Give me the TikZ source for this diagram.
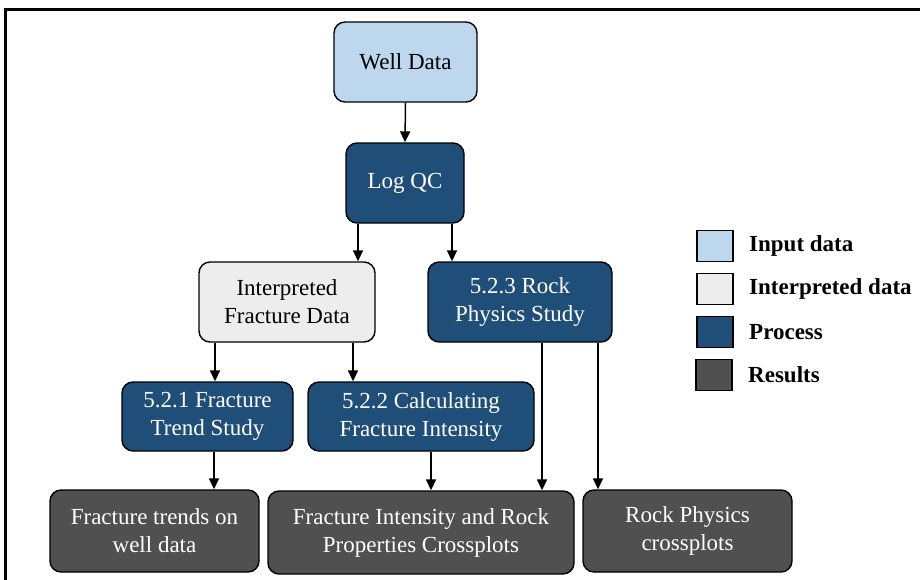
\documentclass[tikz,border=0pt]{standalone}
\usepackage{fontspec}
\setmainfont{Liberation Serif}
\usetikzlibrary{arrows.meta}
\definecolor{inputblue}{HTML}{BDD7EE}
\definecolor{interpgrey}{HTML}{EDEDED}
\definecolor{procblue}{HTML}{1F4E79}
\definecolor{resgrey}{HTML}{505050}
\begin{document}
\begin{tikzpicture}[x=1pt,y=-1pt,
  box/.style={draw=black, line width=1.4pt, rounded corners=11pt, align=center,
    font=\fontsize{23}{28}\selectfont, inner sep=0pt},
  inbox/.style={box, fill=inputblue, text=black},
  interpbox/.style={box, fill=interpgrey, text=black},
  procbox/.style={box, fill=procblue, text=white},
  resbox/.style={box, fill=resgrey, text=white},
  flow/.style={-{Triangle[length=11pt,width=10pt]}, line width=1.5pt},
  legkey/.style={draw=black, line width=1.4pt, minimum width=36pt, minimum height=31pt, inner sep=0pt},
  legtext/.style={anchor=west, font=\fontsize{23}{26}\selectfont\bfseries, inner sep=0pt}]
\useasboundingbox (0,0) rectangle (920,579);
% outer frame
\draw[line width=3pt] (5,585) -- (5,9) -- (926,9);

% nodes
\node[inbox, minimum width=143pt, minimum height=80pt] (well) at (405.5,62) {Well Data};
\node[procbox, minimum width=118pt, minimum height=80pt] (logqc) at (405,183) {Log QC};
\node[interpbox, minimum width=176pt, minimum height=80pt] (interp) at (287,302) {Interpreted\\Fracture Data};
\node[procbox, minimum width=184pt, minimum height=80pt] (rps) at (520,302) {5.2.3 Rock\\Physics Study};
\node[procbox, minimum width=171pt, minimum height=69pt] (fts) at (207.5,416.5) {5.2.1 Fracture\\Trend Study};
\node[procbox, minimum width=226pt, minimum height=69pt] (cfi) at (421,416.5) {5.2.2 Calculating\\Fracture Intensity};
\node[resbox, minimum width=209pt, minimum height=82pt] (ftw) at (154.5,531) {Fracture trends on\\well data};
\node[resbox, minimum width=306pt, minimum height=83pt] (fix) at (421,532.5) {Fracture Intensity and Rock\\Properties Crossplots};
\node[resbox, minimum width=209pt, minimum height=82pt] (rpx) at (687.5,531) {Rock Physics\\crossplots};

% connectors
\draw[flow] (well.south) -- (logqc.north);
\draw[flow] (logqc.south -| 358,0) -- (interp.north -| 358,0);
\draw[flow] (logqc.south -| 452,0) -- (rps.north -| 452,0);
\draw[flow] (interp.south -| 215,0) -- (fts.north -| 215,0);
\draw[flow] (interp.south -| 353,0) -- (cfi.north -| 353,0);
\draw[flow] (fts.south -| 214,0) -- (ftw.north -| 214,0);
\draw[flow] (cfi.south -| 431,0) -- (fix.north -| 431,0);
\draw[flow] (rps.south -| 542,0) -- (fix.north -| 542,0);
\draw[flow] (rps.south -| 598,0) -- (rpx.north -| 598,0);

% legend
\node[legkey, fill=inputblue] (k1) at (715,246) {};
\node[legkey, fill=interpgrey] (k2) at (715,289) {};
\node[legkey, fill=procblue] (k3) at (715,332) {};
\node[legkey, fill=resgrey] (k4) at (714,375) {};
\node[legtext] (t1) at (749,246) {Input data};
\node[legtext] (t2) at (749,289) {Interpreted data};
\node[legtext] (t3) at (749,332) {Process};
\node[legtext] (t4) at (748,375) {Results};
\end{tikzpicture}
\end{document}
